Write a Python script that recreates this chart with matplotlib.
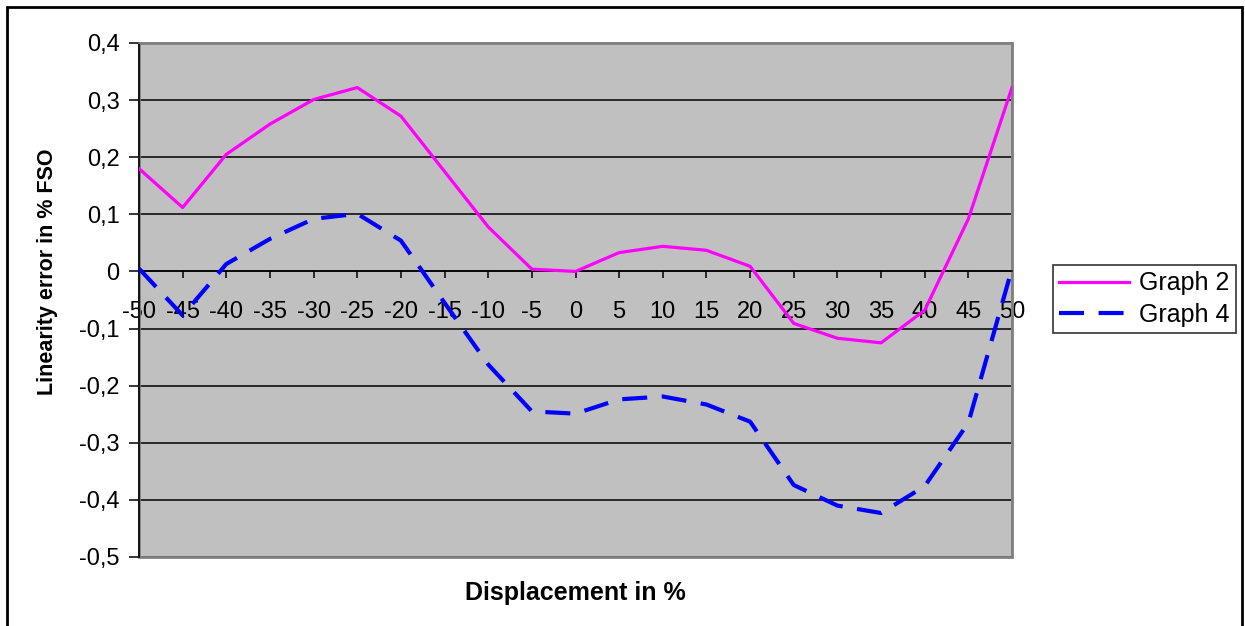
import numpy as np
import matplotlib.pyplot as plt
from matplotlib.patches import Rectangle
from matplotlib.ticker import FuncFormatter

plt.rcParams['font.family'] = ['Liberation Sans', 'DejaVu Sans']
plt.rcParams['axes.unicode_minus'] = False

# displacement in %
displacement = [-50, -45, -40, -35, -30, -25, -20, -15, -10, -5, 0,
                5, 10, 15, 20, 25, 30, 35, 40, 45, 50]
graph2 = [0.180, 0.112, 0.205, 0.258, 0.301, 0.322, 0.272, 0.175, 0.078, 0.004, 0.000,
          0.033, 0.044, 0.037, 0.009, -0.091, -0.117, -0.125, -0.068, 0.092, 0.322]
graph4 = [0.005, -0.077, 0.013, 0.057, 0.092, 0.101, 0.054, -0.055, -0.163, -0.245, -0.249,
          -0.224, -0.219, -0.233, -0.263, -0.374, -0.410, -0.423, -0.376, -0.265, 0.005]
yticks = [-0.5, -0.4, -0.3, -0.2, -0.1, 0, 0.1, 0.2, 0.3, 0.4]

W, H = 1245, 626
fig = plt.figure(figsize=(W / 100, H / 100), dpi=100)
ax = fig.add_axes([139 / W, 1 - 557 / H, (1012 - 139) / W, (557 - 43) / H])
ax.set_facecolor('#C0C0C0')

ax.plot(displacement, graph2, color='#FF00FF', lw=2.3, label='Graph 2', zorder=3)
ax.plot(displacement, graph4, color='#0000FF', lw=3.0, dashes=(6, 3.5), label='Graph 4', zorder=3)

ax.set_xlim(-50, 50)
ax.set_ylim(-0.5, 0.4)
ax.set_xticks(displacement)
ax.set_yticks(yticks)


def comma_fmt(v, pos):
    if abs(v) < 1e-9:
        return '0'
    return ('%.1f' % v).replace('.', ',')


ax.yaxis.set_major_formatter(FuncFormatter(comma_fmt))
ax.grid(axis='y', color='black', lw=1.1)
ax.set_axisbelow(True)

ax.spines['bottom'].set_position(('data', 0))
ax.spines['bottom'].set_color('black')
ax.spines['bottom'].set_linewidth(1.1)
ax.spines['left'].set_color('black')
ax.spines['left'].set_linewidth(1.2)
for s in ['top', 'right']:
    ax.spines[s].set_color('#808080')
    ax.spines[s].set_linewidth(1.2)
# gray bottom edge of the plot area
ax.add_patch(Rectangle((0, 0), 1, 1, transform=ax.transAxes, fill=False,
                       edgecolor='#808080', lw=2.0, zorder=0.6, clip_on=False))

ax.tick_params(axis='x', direction='out', length=5, width=1.1, pad=16,
               labelsize=17, colors='black')
ax.tick_params(axis='y', direction='out', length=7, width=1.1, pad=7,
               labelsize=17, colors='black')

fig.text(48 / W, 1 - 272 / H, 'Linearity error in % FSO', rotation=90,
         ha='center', va='center', fontsize=15.5, fontweight='bold')
fig.text(575 / W, 1 - 593 / H, 'Displacement in %', ha='center', va='center',
         fontsize=18, fontweight='bold')

leg = fig.legend(loc='center left', bbox_to_anchor=(1053 / W, 1 - 299 / H),
                 fontsize=18, frameon=True, fancybox=False, edgecolor='black',
                 handlelength=2.8, handletextpad=0.4, borderpad=0.25,
                 labelspacing=0.3, borderaxespad=0)
leg.get_frame().set_linewidth(1.2)

# outer chart border
fig.patches.append(Rectangle((7 / W, -0.05), (1242 - 7) / W, 1.05 - 7 / H,
                             transform=fig.transFigure, fill=False,
                             edgecolor='black', lw=2.0))

fig.savefig('out.png', dpi=100)
